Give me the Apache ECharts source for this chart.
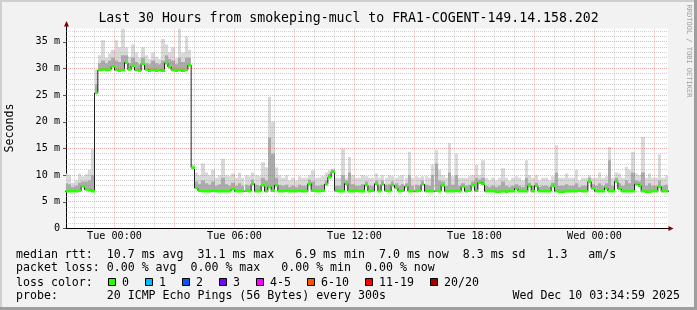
<!DOCTYPE html>
<html><head><meta charset="utf-8">
<script src="https://cdn.jsdelivr.net/npm/echarts@6/dist/echarts.min.js"></script>
<style>html,body{margin:0;padding:0;background:#f2f2f2}#c{width:697px;height:310px}</style>
</head><body><div id="c"></div>
<script>
// ---------------- data ----------------
const titleText = 'Last 30 Hours from smokeping-mucl to FRA1-COGENT-149.14.158.202';
const xTickHours = [0, 6, 12, 18, 24];            // hours relative to Tue 00:00
const xTickLabels = ['Tue 00:00', 'Tue 06:00', 'Tue 12:00', 'Tue 18:00', 'Wed 00:00'];
const yTickValues = [0, 5, 10, 15, 20, 25, 30, 35];
const yTickLabels = ['0', '5 m', '10 m', '15 m', '20 m', '25 m', '30 m', '35 m'];
const yAxisName = 'Seconds';
const firstStepHour = -2.5;   // Mon 21:30
const stepHours = 1 / 6;      // 10 minute steps

// median RTT in ms
const medianMs = [
  7.0,7.0,7.0,7.0,7.1,7.9,7.3,7.2,7.0,25.4,29.7,29.8,
  29.7,29.8,30.4,29.7,29.6,29.7,31.1,29.8,30.5,29.7,29.6,30.9,
  29.8,29.6,29.7,29.6,29.7,29.6,31.0,30.3,29.7,29.6,29.7,29.6,
  29.7,30.6,11.4,7.6,7.1,7.0,7.0,7.0,7.1,7.0,7.0,7.0,
  7.0,7.0,7.4,7.0,7.0,7.0,7.1,7.0,8.4,7.0,7.0,8.1,
  7.0,7.8,7.1,8.1,7.0,7.0,7.1,7.0,7.0,7.0,7.1,7.0,
  7.0,8.4,7.1,7.0,7.0,7.1,8.3,9.6,10.6,7.1,7.0,7.0,
  8.4,7.0,7.0,7.1,7.0,7.0,8.1,7.0,7.1,8.4,7.0,8.3,
  7.1,7.0,8.1,7.6,7.0,7.1,7.9,7.0,7.0,7.0,7.1,8.3,
  7.0,7.0,7.0,7.1,7.0,8.1,7.0,7.0,7.0,7.1,7.0,7.9,
  7.0,7.1,8.1,7.1,8.6,8.4,7.0,7.0,7.0,6.9,6.9,7.0,
  6.9,7.0,7.0,7.5,7.0,7.0,7.0,8.0,7.0,8.0,7.0,7.0,
  7.0,7.0,8.0,7.0,6.9,6.9,7.0,7.0,7.0,7.0,7.1,7.0,
  7.0,8.8,7.5,7.0,7.0,7.0,7.6,7.0,7.0,8.8,7.4,7.0,
  7.0,7.0,7.0,8.3,8.0,7.0,6.9,6.9,7.0,7.0,7.8,7.0,
  7.0,7.0
];
// upper edge of the dense (darker) smoke, ms
const smokeMidMs = [
  8.5,8.3,7.8,8.0,8.6,8.8,8.8,9.0,10.0,27.0,31.0,31.5,
  31.0,31.5,32.0,31.5,31.2,32.5,32.5,31.0,32.0,31.2,30.8,32.0,
  31.0,30.8,31.5,31.0,30.8,31.5,32.5,31.8,31.5,30.8,32.0,31.2,
  32.0,32.0,11.5,8.8,8.3,9.0,8.5,8.2,8.8,8.0,8.3,9.5,
  8.3,8.0,8.6,8.0,8.5,8.0,8.2,8.0,9.2,8.2,8.0,9.5,
  9.0,17.0,14.0,9.5,8.2,8.0,8.2,7.8,8.0,7.8,8.2,8.0,
  8.0,9.2,8.8,8.0,8.0,8.2,9.0,10.2,11.0,8.0,8.0,10.0,
  9.0,10.5,8.3,8.0,8.0,8.3,8.8,8.0,8.0,9.0,8.0,9.0,
  8.2,8.3,8.8,8.5,8.0,8.3,8.5,10.0,8.0,8.2,8.0,9.0,
  8.2,8.0,10.0,12.2,9.0,8.8,8.0,10.5,8.2,10.0,8.0,8.5,
  8.0,8.2,8.8,9.5,9.2,9.5,8.0,7.8,8.0,7.8,8.0,8.8,
  8.0,7.8,8.0,8.3,8.0,7.8,9.5,8.6,8.0,8.6,7.8,8.0,
  8.0,7.8,8.6,10.5,8.0,8.0,8.3,8.0,8.0,8.5,7.8,8.0,
  8.0,9.5,8.3,8.0,8.5,8.0,8.5,12.8,8.0,9.5,8.5,8.0,
  9.0,8.5,10.5,9.0,8.8,10.5,8.0,8.5,8.0,8.0,9.0,8.0,
  8.2,8.0
];
// upper edge of all smoke (slowest ping), ms
const smokeMaxMs = [
  10.3,10.0,8.6,9.0,10.3,9.8,10.2,11.0,15.0,29.8,32.5,35.3,
  32.0,32.8,33.5,35.3,34.0,37.5,34.0,32.2,34.5,33.0,32.0,34.0,
  32.5,31.8,33.0,32.2,31.8,35.6,34.5,33.0,34.0,31.9,37.5,33.0,
  36.0,33.5,12.0,10.5,10.0,12.2,10.5,10.0,11.0,9.5,10.0,13.1,
  10.0,9.8,10.3,9.5,10.5,9.5,10.0,9.8,10.5,10.0,9.8,12.4,
  11.5,24.7,20.0,11.5,10.0,9.5,10.0,9.0,9.5,9.0,9.8,9.5,
  9.5,10.0,10.9,9.5,9.5,9.8,10.5,10.9,11.2,9.5,9.5,15.0,
  9.5,13.4,10.0,9.5,9.5,10.0,9.8,9.5,9.5,10.3,9.5,10.0,
  9.5,10.0,9.8,9.5,9.8,10.0,9.5,14.4,9.5,9.8,9.5,9.8,
  9.8,9.5,12.0,14.7,11.0,10.0,9.5,16.0,9.8,14.0,9.5,9.5,
  9.5,9.8,10.0,11.9,10.0,12.8,9.5,9.0,9.5,9.0,9.5,11.3,
  9.5,9.0,9.5,9.8,9.5,9.0,12.8,10.0,9.5,10.0,9.0,9.5,
  9.5,9.0,9.8,15.6,9.5,9.5,10.3,9.5,9.5,11.0,9.0,9.5,
  9.5,10.0,9.5,9.5,10.5,9.5,9.8,15.3,9.5,10.5,10.3,9.5,
  11.6,11.0,14.4,10.3,10.0,17.2,9.5,10.3,9.5,9.5,13.9,9.5,
  10.0,9.5
];
const lossLabels = ['0', '1', '2', '3', '4-5', '6-10', '11-19', '20/20'];
const lossColors = ['#26ff00', '#00b8ff', '#0059ff', '#7e00ff', '#ff00ff', '#ff5500', '#ff0000', '#a00000'];
const legendLine1 = 'median rtt:  10.7 ms avg  31.1 ms max   6.9 ms min  7.0 ms now  8.3 ms sd   1.3   am/s';
const legendLine2 = 'packet loss: 0.00 % avg  0.00 % max   0.00 % min  0.00 % now';
const legendLine3 = 'loss color:';
const legendLine4 = 'probe:       20 ICMP Echo Pings (56 Bytes) every 300s';
const timestampText = 'Wed Dec 10 03:34:59 2025';
const watermarkText = 'RRDTOOL / TOBI OETIKER';

// ---------------- chart ----------------
const mono = '"DejaVu Sans Mono", monospace';
const X_MIN = -2.425, X_MAX = 27.675;
const minorGrid = 'rgba(140,140,140,0.42)';
const majorGrid = 'rgba(222,80,80,0.45)';

const stepT = i => firstStepHour + i * stepHours;

function gridSeries(values, vertical) {
  return {
    type: 'custom', silent: true, z: 3, clip: true, animation: false,
    data: values.map(v => vertical ? [v, 0] : [X_MIN, v]),
    encode: { x: 0, y: 1 },
    renderItem(params, api) {
      const cs = params.coordSys;
      let shape, major;
      if (vertical) {
        const v = api.value(0);
        major = (v % 3 === 0);
        const x = Math.floor(api.coord([v, 0])[0]) + 0.5;
        shape = { x1: x, y1: cs.y, x2: x, y2: cs.y + cs.height };
      } else {
        const v = api.value(1);
        major = (v % 5 === 0);
        const y = Math.floor(api.coord([X_MIN, v])[1]) + 0.5;
        shape = { x1: cs.x, y1: y, x2: cs.x + cs.width, y2: y };
      }
      return { type: 'line', shape, style: { stroke: major ? majorGrid : minorGrid, lineWidth: 1, lineDash: [1, 1] } };
    }
  };
}

function smokeSeries(upper, color, z) {
  return {
    type: 'custom', silent: true, z, clip: true, animation: false,
    data: medianMs.map((m, i) => [stepT(i), m, upper[i]]),
    encode: { x: 0, y: [1, 2] },
    renderItem(params, api) {
      const t = api.value(0);
      const a = api.coord([t, api.value(2)]);
      const b = api.coord([t + stepHours, api.value(1)]);
      const x0 = Math.round(a[0]), x1 = Math.round(b[0]);
      return { type: 'rect', shape: { x: x0, y: a[1], width: x1 - x0, height: b[1] - a[1] }, style: { fill: color } };
    }
  };
}

const hGrid = []; for (let v = 1; v <= 37; v++) hGrid.push(v);
const vGrid = []; for (let h = -2; h <= 27; h++) vGrid.push(h);

const medianLine = medianMs.map((m, i) => [stepT(i), m]);
medianLine.push([stepT(medianMs.length), medianMs[medianMs.length - 1]]);

const graphics = [];
// frame
graphics.push({ type: 'rect', shape: { x: 0, y: 0, width: 697, height: 2 }, style: { fill: '#cfcfcf' }, silent: true });
graphics.push({ type: 'rect', shape: { x: 0, y: 0, width: 2, height: 310 }, style: { fill: '#cfcfcf' }, silent: true });
graphics.push({ type: 'rect', shape: { x: 694, y: 0, width: 3, height: 310 }, style: { fill: '#9e9e9e' }, silent: true });
graphics.push({ type: 'rect', shape: { x: 0, y: 307, width: 697, height: 3 }, style: { fill: '#9e9e9e' }, silent: true });
// axis extensions + arrows
graphics.push({ type: 'line', shape: { x1: 66.5, y1: 24, x2: 66.5, y2: 29 }, style: { stroke: '#000', lineWidth: 1 }, silent: true });
graphics.push({ type: 'polygon', shape: { points: [[64, 26.5], [66.5, 21], [69, 26.5]] }, style: { fill: '#800000' }, silent: true });
graphics.push({ type: 'line', shape: { x1: 667, y1: 228.5, x2: 670, y2: 228.5 }, style: { stroke: '#000', lineWidth: 1 }, silent: true });
graphics.push({ type: 'polygon', shape: { points: [[668.5, 226], [673.5, 228.5], [668.5, 231]] }, style: { fill: '#800000' }, silent: true });
graphics.push({ type: 'line', shape: { x1: 63, y1: 228.5, x2: 66, y2: 228.5 }, style: { stroke: '#000', lineWidth: 1 }, silent: true });
// y axis name
graphics.push({ type: 'text', x: 10, y: 128, rotation: Math.PI / 2, silent: true,
  style: { text: yAxisName, font: '11.6px ' + mono, fill: '#000', textAlign: 'center', textVerticalAlign: 'middle' } });
// watermark
graphics.push({ type: 'text', x: 688.5, y: 51, rotation: -Math.PI / 2, silent: true,
  style: { text: watermarkText, font: '7px ' + mono, fill: '#a0a0a0', textAlign: 'center', textVerticalAlign: 'middle' } });
// legend lines
const legFont = '11.6px ' + mono;
[[legendLine1, 254.5], [legendLine2, 268], [legendLine3, 282.5], [legendLine4, 296]].forEach(([t, y]) => {
  graphics.push({ type: 'text', x: 16, y, silent: true, style: { text: t, font: legFont, fill: '#000', textAlign: 'left', textVerticalAlign: 'middle' } });
});
graphics.push({ type: 'text', x: 680, y: 296, silent: true, style: { text: timestampText, font: legFont, fill: '#000', textAlign: 'right', textVerticalAlign: 'middle' } });
let bx = 108.5;
lossLabels.forEach((lab, k) => {
  graphics.push({ type: 'rect', shape: { x: bx, y: 278.5, width: 7, height: 7 }, style: { fill: lossColors[k], stroke: '#000', lineWidth: 1 }, silent: true });
  graphics.push({ type: 'text', x: bx + 13.5, y: 282.5, silent: true, style: { text: lab, font: legFont, fill: '#000', textAlign: 'left', textVerticalAlign: 'middle' } });
  bx += 30 + 7 * lab.length;
});

const chart = echarts.init(document.getElementById('c'), null, { renderer: 'canvas' });
chart.setOption({
  backgroundColor: '#f2f2f2',
  animation: false,
  title: { text: titleText, left: 'center', top: 12.5, padding: 0,
    textStyle: { fontFamily: mono, fontSize: 13.2, fontWeight: 'normal', color: '#000' } },
  grid: { left: 66, right: 29, top: 28.5, bottom: 81.5, show: true, backgroundColor: '#ffffff', borderWidth: 0 },
  xAxis: {
    type: 'value', min: X_MIN, max: X_MAX,
    axisLine: { show: true, onZero: false, lineStyle: { color: '#000', width: 1 } },
    axisTick: { show: false }, splitLine: { show: false },
    axisLabel: { customValues: xTickHours, formatter: v => { const k = xTickHours.indexOf(v); return k >= 0 ? xTickLabels[k] : ''; },
      fontFamily: mono, fontSize: 10.15, color: '#000', margin: 3 }
  },
  yAxis: {
    type: 'value', min: 0, max: 37.5,
    axisLine: { show: true, onZero: false, lineStyle: { color: '#000', width: 1 } },
    axisTick: { show: true, customValues: yTickValues, length: 3, lineStyle: { color: '#555' } },
    splitLine: { show: false },
    axisLabel: { customValues: yTickValues, formatter: v => { const k = yTickValues.indexOf(v); return k >= 0 ? yTickLabels[k] : ''; },
      fontFamily: mono, fontSize: 10.15, color: '#000', margin: 6 }
  },
  series: [
    smokeSeries(smokeMaxMs, '#d9d9d9', 1),
    smokeSeries(smokeMidMs, '#ababab', 2),
    gridSeries(vGrid, true),
    gridSeries(hGrid, false),
    { type: 'line', step: 'end', symbol: 'none', data: medianLine, z: 4, clip: true, silent: true,
      lineStyle: { color: '#202020', width: 1 } },
    { type: 'custom', silent: true, z: 5, clip: true,
      data: medianMs.map((m, i) => [stepT(i), m]),
      encode: { x: 0, y: 1 },
      renderItem(params, api) {
        const t = api.value(0), m = api.value(1);
        const a = api.coord([t, m]);
        const b = api.coord([t + stepHours, m]);
        const x0 = Math.round(a[0]), x1 = Math.round(b[0]);
        return { type: 'rect', shape: { x: x0, y: a[1] - 1.25, width: x1 - x0, height: 2.5 }, style: { fill: lossColors[0] } };
      } }
  ],
  graphic: graphics
});
</script>
</body></html>
